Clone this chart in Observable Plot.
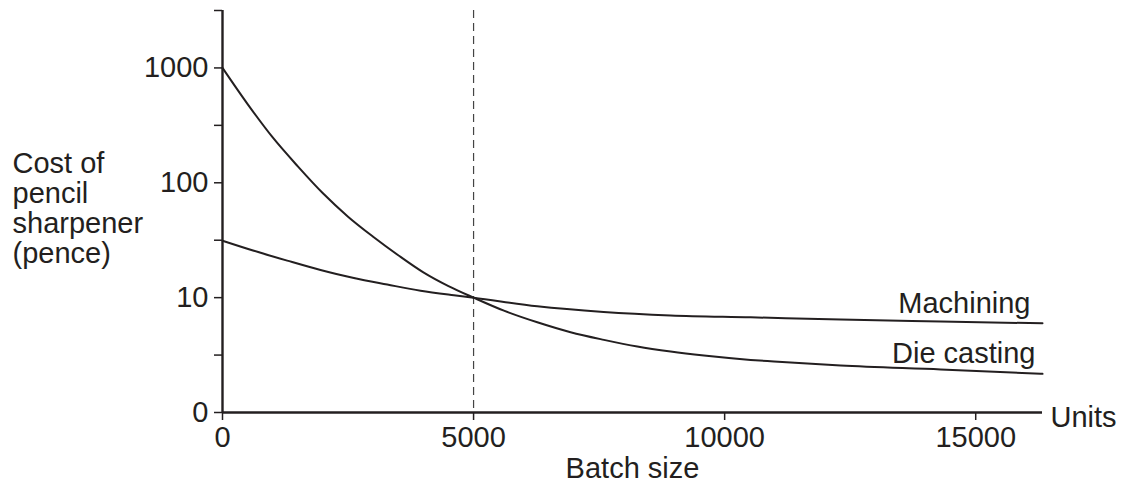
<!DOCTYPE html>
<html>
<head>
<meta charset="utf-8">
<script src="https://cdn.jsdelivr.net/npm/d3@7"></script>
<script src="https://cdn.jsdelivr.net/npm/@observablehq/plot@0.6"></script>
<style>
  html, body { margin: 0; padding: 0; background: #fff; }
</style>
</head>
<body>
<div id="chart"></div>
<script>
// Die casting series
const batchDie = [0, 500, 1000, 1500, 2000, 2500, 3000, 3500, 4000, 4500, 5000, 5604, 6269, 6932, 7596, 8261, 8924, 9588, 10518, 10982, 12311, 14303, 16330];
const costDie  = [1000, 484, 248, 139, 81, 50.7, 33.9, 23.4, 16.6, 12.6, 10, 7.7, 6.1, 5.0, 4.29, 3.75, 3.39, 3.13, 2.87, 2.78, 2.56, 2.37, 2.17];
// Machining series
const batchMach = [0, 624, 1289, 1952, 2616, 3281, 3944, 4608, 5000, 6269, 7590, 8924, 10518, 12311, 14303, 16330];
const costMach  = [31.3, 25.6, 21, 17.4, 14.8, 13.0, 11.5, 10.5, 10, 8.4, 7.5, 7.0, 6.74, 6.44, 6.19, 5.98];

const seriesNames = ["Machining", "Die casting"];
const breakEven = [5000];

const xTicks = [0, 5000, 10000, 15000];
const yTicks = [1, 10, 100, 1000];
const yTickLabels = ["0", "10", "100", "1000"];
const yMinorTicks = [3.1623, 31.623, 316.23, 3162.28];
const xDomain = [0, 16330];
const yDomain = [1, 3162.28];

const yLabel = "Cost of\npencil\nsharpener\n(pence)";
const xLabel = "Batch size";
const unitsLabel = "Units";

const ink = "#231f20";

const chart = Plot.plot({
  width: 1124,
  height: 484,
  marginLeft: 222,
  marginRight: 82,
  marginTop: 10,
  marginBottom: 72,
  style: {fontFamily: "'Liberation Sans', Arial, sans-serif", fontSize: "29px", color: ink, background: "#fff", overflow: "visible"},
  x: {domain: xDomain},
  y: {type: "log", domain: yDomain},
  marks: [
    Plot.ruleX(breakEven, {stroke: "#444", strokeWidth: 1.2, strokeDasharray: "8,5"}),
    Plot.line(costMach, {x: batchMach, y: costMach, stroke: ink, strokeWidth: 2, curve: "monotone-x"}),
    Plot.line(costDie, {x: batchDie, y: costDie, stroke: ink, strokeWidth: 2, curve: "monotone-x"}),
    Plot.axisY(yTicks, {tickSize: 8, tickPadding: 6, strokeWidth: 1.5, tickFormat: d => yTickLabels[yTicks.indexOf(d)], label: null}),
    Plot.axisY(yMinorTicks, {tickSize: 8, strokeWidth: 1.5, tickFormat: () => "", label: null}),
    Plot.axisX(xTicks, {tickSize: 8, tickPadding: 6, strokeWidth: 1.5, tickFormat: d => String(d), label: null}),
    Plot.ruleX([0], {stroke: ink, strokeWidth: 2.4}),
    Plot.ruleY([1], {stroke: ink, strokeWidth: 2.6}),
    Plot.text([seriesNames[0]], {x: () => batchMach[batchMach.length - 1], y: () => costMach[costMach.length - 1], textAnchor: "end", lineAnchor: "bottom", dx: -12, dy: -10, fill: ink}),
    Plot.text([seriesNames[1]], {x: () => batchDie[batchDie.length - 1], y: () => costDie[costDie.length - 1], textAnchor: "end", lineAnchor: "bottom", dx: -7, dy: -11, fill: ink}),
    Plot.text([xLabel], {frameAnchor: "bottom", lineAnchor: "bottom", dy: 65, fill: ink}),
    Plot.text([unitsLabel], {frameAnchor: "bottom-right", textAnchor: "start", lineAnchor: "bottom", dx: 8, dy: 14, fill: ink}),
    Plot.text([yLabel], {frameAnchor: "left", textAnchor: "start", lineAnchor: "middle", lineHeight: 30 / 29, dx: -210, dy: -3, fill: ink})
  ]
});
document.getElementById("chart").appendChild(chart);
</script>
</body>
</html>
